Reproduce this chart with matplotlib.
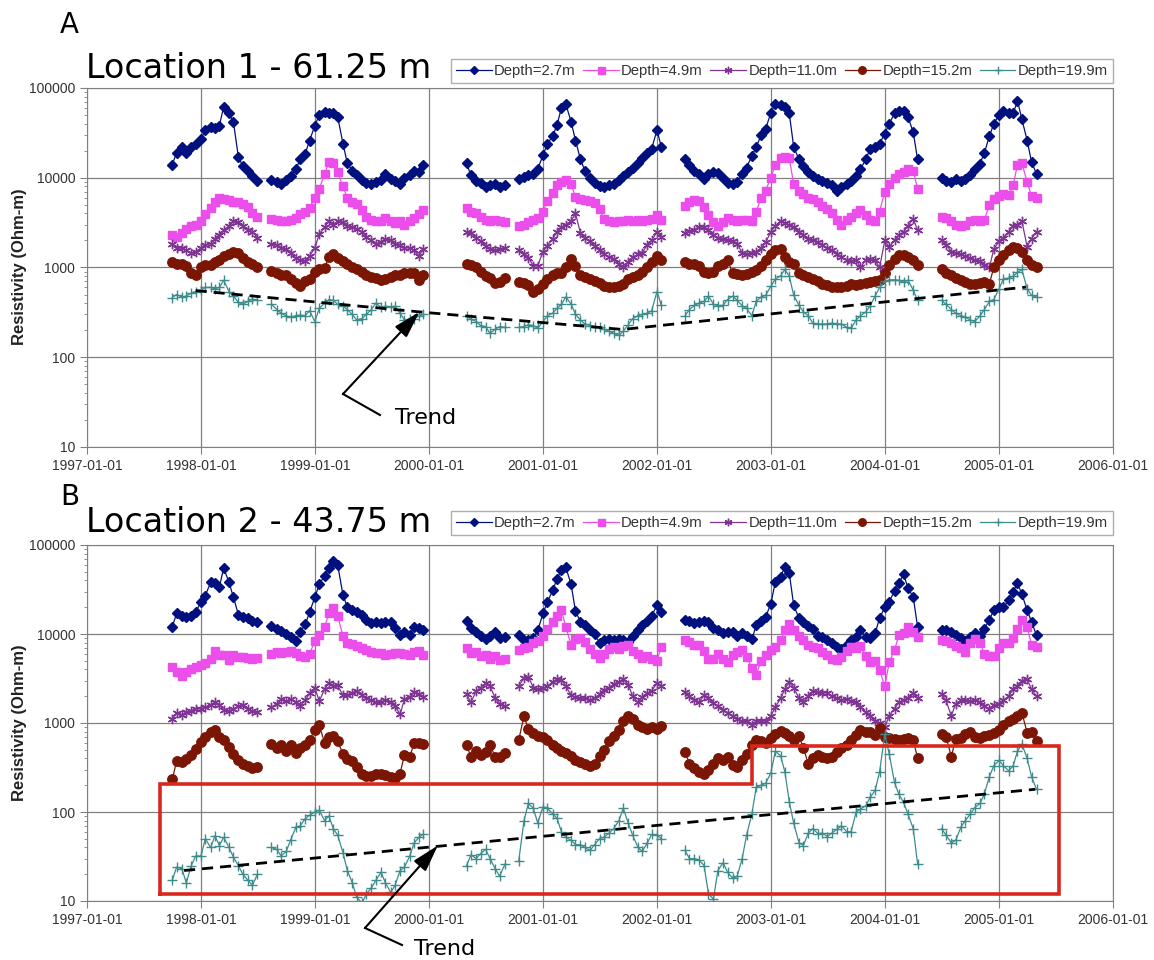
import numpy as np
import pandas as pd
import matplotlib
matplotlib.use('Agg')
import matplotlib.pyplot as plt
import matplotlib.dates as mdates
from matplotlib.ticker import FuncFormatter, NullFormatter
from matplotlib.lines import Line2D

nan = np.nan

# sampling dates, 1st and 15th of each month
dates = pd.date_range('1997-10-01', '2005-05-01', freq='SMS')

# ---- Location 1 (panel A) ----
a_27 = ([14000, 19000, 22000, 19000, 22000, 24000, 27000, 34000, 37000, 36000, 38000, 62000, 52000, 42000,
         17000, 13500, 12000, 10500, 9200] + [nan] * 2 +
        [9500, 9000, 8600, 9500, 10500, 12500, 16000, 18500, 26000, 38000, 50000, 54000, 53000, 52000, 48000,
         24000, 14500, 12000, 10700, 9500, 8800, 8500, 9000, 9500, 11000, 9800, 9300, 8600, 10000, 10600,
         12000, 11500, 14000] + [nan] * 8 +
        [14500, 10600, 9300, 8800, 7800, 8200, 8500, 7900, 8300] + [nan] * 2 +
        [9700, 10200, 10600, 11000, 12500, 17900, 24000, 29000, 39000, 60000, 66000, 42000, 26000, 16000, 12000,
         10000, 8800, 8100, 7800, 8200, 8500, 9400, 10500, 11600, 12800, 14500, 16500, 18800, 21000, 34000,
         22000] + [nan] * 4 +
        [16000, 14000, 12000, 11000, 9800, 11000, 11500, 11300, 10000, 8700, 8600, 9000, 11000, 13000, 17500,
         22000, 30000, 35000, 53000, 67000, 65000, 62000, 52000, 22000, 16000, 13500, 11500, 10500, 9800, 9200,
         8800, 8200, 7200, 7800, 8500, 9200, 10500, 12500, 16000, 21000, 22000, 24000, 31000, 40000, 52000,
         55000, 55000, 48000, 32000, 16000] + [nan] * 4 +
        [10000, 9200, 8900, 9600, 9300, 9600, 10600, 12500, 14400, 19000, 29000, 40000, 50000, 56000, 53000,
         52000, 72000, 45000, 26000, 15000, 11000])

a_49 = ([2300, 2200, 2400, 2700, 2900, 3000, 3300, 3900, 4600, 5300, 5900, 5800, 5600, 5300, 5300, 5100,
         4700, 4100, 3700] + [nan] * 2 +
        [3500, 3400, 3300, 3300, 3400, 3600, 3900, 4200, 4600, 6000, 7500, 11000, 15000, 14500, 11500, 8000,
         6000, 5400, 5100, 4400, 3700, 3400, 3300, 3300, 3600, 3300, 3100, 3300, 3000, 3300, 3600, 3900,
         4400] + [nan] * 8 +
        [4600, 4200, 4000, 3700, 3400, 3300, 3400, 3300, 3200] + [nan] * 2 +
        [2900, 3000, 3200, 3400, 3600, 4200, 5500, 6800, 8300, 9000, 9500, 8500, 6100, 5800, 5700, 5500, 5200,
         4500, 3500, 3300, 3200, 3300, 3300, 3400, 3300, 3400, 3300, 3400, 3500, 3800, 3400] + [nan] * 4 +
        [4900, 5300, 5700, 5500, 4700, 3800, 3200, 2900, 3200, 3600, 3400, 3300, 3400, 3400, 3300, 4200, 6000,
         7200, 10000, 14000, 16500, 17000, 16500, 8500, 7200, 6600, 6000, 5800, 5300, 4900, 4500, 4000, 3400,
         3000, 3400, 3700, 4100, 4400, 3800, 3400, 3300, 4200, 7000, 8500, 10000, 11000, 11500, 12500, 12000,
         7500] + [nan] * 4 +
        [3700, 3600, 3300, 3000, 2900, 3000, 3300, 3400, 3300, 3400, 5000, 5800, 6200, 6600, 6500, 8200, 14000,
         14500, 9000, 6200, 6000])

a_110 = ([1850, 1650, 1650, 1550, 1450, 1500, 1650, 1800, 1850, 2100, 2300, 2600, 2900, 3300, 3200, 2900,
          2650, 2500, 2150] + [nan] * 2 +
         [1850, 1800, 1650, 1600, 1450, 1270, 1220, 1180, 1350, 1650, 2350, 2800, 3300, 3000, 3300, 3200, 2900,
          2850, 2700, 2500, 2200, 2000, 1850, 1900, 2100, 2000, 1850, 1800, 1650, 1650, 1550, 1350,
          1600] + [nan] * 8 +
         [2500, 2400, 2150, 1950, 1750, 1600, 1560, 1600, 1650] + [nan] * 2 +
         [1550, 1400, 1280, 1050, 1050, 1500, 1750, 2100, 2500, 2800, 3000, 3300, 4000, 2400, 2150, 1950, 1750,
          1550, 1400, 1300, 1250, 1100, 1000, 1150, 1300, 1400, 1450, 1800, 2000, 2500, 2200] + [nan] * 4 +
         [2450, 2550, 2650, 2850, 2800, 2600, 2300, 2150, 2100, 2000, 1950, 1850, 1450, 1400, 1450, 1500, 1650,
          1900, 2500, 2900, 3300, 3100, 3000, 2800, 2500, 2300, 2100, 2000, 1900, 1800, 1650, 1550, 1400, 1300,
          1220, 1180, 1220, 1000, 1220, 1250, 1200, 1000, 2000, 1700, 2000, 2300, 2500, 2900, 3500,
          2600] + [nan] * 4 +
         [2000, 1800, 1500, 1450, 1400, 1330, 1280, 1220, 1180, 1080, 1000, 1600, 1950, 2150, 2500, 2900, 3000,
          3300, 1700, 2100, 2500])

a_152 = ([1150, 1100, 1100, 1030, 860, 820, 1000, 1060, 1060, 1150, 1200, 1350, 1420, 1500, 1450, 1280, 1150,
          1100, 1020] + [nan] * 2 +
         [920, 860, 820, 820, 750, 670, 630, 700, 740, 880, 970, 990, 1300, 1400, 1280, 1180, 1100, 1000, 950,
          880, 820, 780, 760, 730, 750, 780, 820, 820, 860, 860, 860, 720, 820] + [nan] * 8 +
         [1100, 1060, 1020, 900, 800, 760, 670, 690, 760] + [nan] * 2 +
         [690, 680, 640, 540, 580, 660, 740, 820, 860, 870, 1000, 1250, 1050, 830, 790, 740, 700, 670, 620, 600,
          610, 630, 660, 750, 780, 820, 880, 1000, 1150, 1350, 1200] + [nan] * 4 +
         [1150, 1100, 1100, 1050, 900, 870, 900, 1050, 1100, 1200, 860, 850, 820, 840, 900, 940, 1050, 1200,
          1400, 1550, 1600, 1300, 1150, 1100, 860, 820, 780, 750, 700, 660, 640, 610, 610, 600, 620, 650, 640,
          660, 680, 690, 700, 720, 860, 1060, 1250, 1380, 1380, 1320, 1200, 1060] + [nan] * 4 +
         [950, 860, 820, 760, 720, 690, 660, 650, 680, 690, 660, 1000, 1220, 1380, 1550, 1700, 1650, 1500, 1200,
          1060, 1020])

a_199 = ([460, 500, 470, 480, 520, 540, 560, 600, 600, 580, 600, 720, 540, 480, 410, 390, 420, 445,
          430] + [nan] * 2 +
         [390, 340, 310, 290, 280, 290, 295, 290, 330, 250, 350, 400, 440, 430, 390, 370, 340, 300, 260, 270,
          300, 340, 400, 360, 370, 365, 370, 310, 260, 265, 270, 290, 300] + [nan] * 8 +
         [290, 265, 250, 225, 220, 185, 205, 220, 215] + [nan] * 2 +
         [215, 220, 230, 225, 210, 250, 290, 310, 350, 390, 470, 390, 300, 260, 235, 225, 220, 215, 205, 195,
          185, 175, 195, 230, 270, 290, 300, 310, 330, 540, 380] + [nan] * 4 +
         [290, 340, 380, 400, 420, 480, 390, 375, 380, 440, 480, 430, 375, 350, 290, 420, 470, 490, 620, 740,
          810, 950, 800, 490, 380, 320, 290, 240, 235, 235, 235, 240, 235, 235, 215, 210, 260, 290, 320, 375,
          480, 600, 700, 730, 730, 720, 690, 720, 560, 430] + [nan] * 4 +
         [430, 390, 340, 310, 290, 280, 260, 250, 290, 340, 420, 440, 580, 750, 760, 800, 880, 950, 580, 490,
          470])

# ---- Location 2 (panel B) ----
b_27 = ([12000, 17000, 16000, 15500, 16000, 17500, 23000, 27000, 38000, 37000, 34000, 55000, 38000, 26000,
         16500, 15500, 15000, 14000, 13500] + [nan] * 2 +
        [12300, 11400, 10800, 10000, 9200, 8300, 10500, 12800, 17500, 26000, 36000, 45000, 55000, 66000, 60000,
         27500, 20000, 18500, 17800, 16300, 14500, 13200, 13700, 13300, 13700, 13700, 11800, 9800, 10500, 9800,
         12100, 11600, 11000] + [nan] * 8 +
        [14000, 11800, 10500, 9400, 8800, 9500, 10500, 9000, 9300] + [nan] * 2 +
        [9700, 8600, 8600, 9000, 11000, 17000, 23000, 31000, 42000, 52000, 56000, 36000, 18000, 13700, 12600,
         11200, 9900, 8000, 8600, 8900, 8600, 8800, 8600, 8200, 9500, 11000, 12600, 14000, 16000, 21000,
         17500] + [nan] * 4 +
        [14400, 14000, 13300, 13500, 14000, 13600, 11800, 11000, 10200, 10500, 10400, 9600, 10300, 9400, 8700,
         12500, 14000, 15500, 22000, 38000, 44000, 57000, 48000, 21000, 15000, 13500, 12400, 11300, 9600, 9200,
         8600, 7900, 7200, 6700, 7600, 8500, 9300, 11000, 9300, 9000, 10200, 15000, 20000, 23000, 30500, 37000,
         47000, 33000, 26000, 12000] + [nan] * 4 +
        [11200, 11000, 10500, 9700, 9000, 8300, 9300, 10200, 9500, 11500, 14500, 18500, 20000, 20000, 24000,
         30000, 37000, 28000, 18500, 13700, 9700])

b_49 = ([4300, 3700, 3400, 3700, 4000, 4300, 4500, 4700, 5200, 6500, 5800, 5800, 5100, 5800, 5500, 5500,
         5400, 5300, 5400] + [nan] * 2 +
        [5900, 6300, 6100, 6300, 6500, 6100, 5600, 5500, 6000, 8300, 9700, 12000, 17000, 19500, 16000, 9500,
         8000, 7800, 7300, 7000, 6600, 6300, 6100, 6100, 5800, 6000, 6100, 6100, 6000, 5800, 6300, 6500,
         5800] + [nan] * 8 +
        [6900, 6100, 6200, 5600, 5800, 5300, 5600, 5100, 5300] + [nan] * 2 +
        [6600, 6900, 7200, 7900, 8300, 9500, 11500, 13500, 16000, 18500, 12000, 7500, 8800, 9000, 8200, 6800,
         5900, 5400, 6000, 6800, 7200, 6700, 7300, 7600, 6500, 5900, 5400, 5600, 5200, 5000, 7200] + [nan] * 4 +
        [8600, 8200, 7500, 7500, 6400, 5300, 5200, 5900, 5300, 4900, 5800, 6300, 6600, 5500, 4200, 3500, 5000,
         5800, 6600, 7200, 8500, 11000, 13000, 11000, 9500, 8600, 7500, 7200, 6900, 6300, 5800, 5300, 5100,
         5500, 6500, 7200, 7000, 7300, 5600, 4900, 5000, 3900, 2600, 4800, 6600, 9700, 10200, 12000, 10600,
         9300] + [nan] * 4 +
        [8600, 8300, 7900, 7300, 6900, 6300, 8000, 8900, 8000, 6000, 5600, 5600, 7000, 7900, 8000, 9000, 11500,
         14500, 12000, 7500, 7200])

b_110 = ([1100, 1300, 1240, 1330, 1380, 1450, 1450, 1500, 1600, 1700, 1600, 1400, 1350, 1450, 1540, 1580,
          1450, 1350, 1330] + [nan] * 2 +
         [1500, 1650, 1850, 1750, 1850, 1700, 1550, 1800, 2150, 2500, 1750, 2400, 2800, 2600, 2650, 2050, 2050,
          2200, 2300, 2050, 1900, 1820, 1700, 1700, 1800, 1700, 1550, 1250, 1850, 1950, 2250, 2100,
          1950] + [nan] * 8 +
         [2100, 1700, 2300, 2500, 2800, 2600, 1900, 1650, 1550] + [nan] * 2 +
         [2600, 3200, 3300, 2500, 2400, 2450, 2600, 2900, 3100, 3050, 2600, 2050, 1950, 1900, 1900, 1820, 1900,
          2100, 2350, 2500, 2750, 2900, 3100, 2700, 2000, 1700, 1950, 2150, 2300, 2800, 2600] + [nan] * 4 +
         [2250, 1990, 1820, 1700, 2050, 1900, 1680, 1560, 1400, 1300, 1200, 1100, 1040, 1040, 960, 1040, 1050,
          1050, 1200, 1500, 1900, 2400, 2900, 2500, 1900, 1700, 2000, 2300, 2250, 2200, 2200, 2000, 1900, 1820,
          1850, 1750, 1700, 1500, 1320, 1200, 1060, 1000, 900, 1200, 1450, 1700, 1800, 1900, 2150,
          1900] + [nan] * 4 +
         [2100, 1800, 1200, 1650, 1800, 1800, 1750, 1800, 1700, 1550, 1450, 1600, 1650, 1800, 2000, 2400, 2600,
          3000, 3100, 2400, 2000])

b_152 = ([232, 370, 360, 390, 440, 510, 610, 690, 800, 840, 700, 640, 540, 450, 380, 350, 330, 315,
          320] + [nan] * 2 +
         [580, 520, 560, 480, 560, 460, 520, 560, 650, 830, 950, 600, 700, 720, 620, 450, 390, 370, 320, 265,
          255, 255, 270, 265, 260, 250, 240, 270, 440, 420, 590, 600, 580] + [nan] * 8 +
         [560, 420, 490, 440, 470, 560, 420, 420, 460] + [nan] * 2 +
         [640, 1200, 850, 780, 720, 700, 640, 560, 520, 490, 460, 430, 380, 360, 345, 330, 350, 430, 500, 620,
          710, 830, 1050, 1200, 1100, 940, 900, 860, 900, 850, 920] + [nan] * 4 +
         [470, 350, 310, 285, 265, 300, 350, 400, 380, 420, 340, 320, 380, 450, 560, 640, 620, 600, 680, 760,
          820, 780, 710, 640, 720, 520, 350, 400, 440, 420, 400, 410, 470, 520, 560, 640, 740, 830, 800, 790,
          740, 880, 700, 670, 660, 650, 660, 670, 650, 400] + [nan] * 4 +
         [750, 700, 420, 660, 680, 760, 800, 690, 680, 710, 740, 770, 840, 950, 1050, 1100, 1200, 1300, 780,
          800, 620])

b_199 = ([17, 24, 23, 16, 25, 32, 32, 50, 40, 54, 42, 52, 40, 31, 25, 20, 17, 15, 20] + [nan] * 2 +
         [40, 38, 32, 36, 48, 67, 70, 84, 92, 100, 105, 80, 90, 65, 55, 35, 22, 16, 11, 9.5, 12, 14, 17, 21,
          16, 12.5, 15, 22, 24, 32, 45, 52, 57] + [nan] * 8 +
         [25, 33, 30, 34, 38, 30, 23, 19, 26] + [nan] * 2 +
         [28, 80, 125, 110, 75, 115, 110, 95, 85, 60, 52, 48, 43, 43, 40, 37, 43, 50, 52, 58, 65, 80, 110, 75,
          55, 40, 36, 45, 56, 55, 50] + [nan] * 4 +
         [37, 30, 30, 29, 25, 12, 10.5, 22, 27, 21, 18, 19, 30, 55, 95, 190, 200, 210, 276, 480, 430, 280, 130,
          75, 45, 42, 58, 65, 57, 58, 53, 58, 64, 70, 60, 60, 100, 108, 118, 146, 175, 280, 750, 450, 215, 158,
          128, 95, 65, 26] + [nan] * 4 +
         [65, 55, 45, 48, 68, 80, 95, 112, 125, 160, 250, 330, 380, 330, 290, 330, 480, 580, 400, 250, 180])

# trend lines
trend_a_dates = ['1997-12-15', '1999-12-24', '2001-09-13', '2005-03-28']
trend_a_vals = [553, 315, 204, 605]
trend_b_dates = ['1997-11-08', '2005-04-27']
trend_b_vals = [22, 180]

# red outline in panel B
box_dates = ['1997-08-22', '1997-08-22', '2002-11-01', '2002-11-01', '2005-07-13', '2005-07-13', '1997-08-22']
box_vals = [11.9, 207, 207, 555, 555, 11.9, 11.9]

labels = ['Depth=2.7m', 'Depth=4.9m', 'Depth=11.0m', 'Depth=15.2m', 'Depth=19.9m']
colors = ['#00117F', '#EC4EEC', '#7F3393', '#7B1604', '#3E8B8B']
markers = ['D', 's', (6, 2, 0), 'o', '+']
msizes = [5.2, 6.3, 6.8, 6.8, 7.0]

plt.rcParams['font.family'] = ['Liberation Sans', 'DejaVu Sans']


def draw_panel(ax, series, tr_dates, tr_vals):
    for vals, lab, col, mk, ms in zip(series, labels, colors, markers, msizes):
        ax.plot(dates, vals, color=col, marker=mk, ms=ms, lw=0.9, mec=col, mfc=col, mew=1.0, label=lab)
    ax.plot(pd.to_datetime(tr_dates), tr_vals, color='k', lw=2, dashes=(4, 2.5), zorder=5)

    ax.set_yscale('log')
    ax.set_ylim(10, 100000)
    ax.set_xlim(pd.Timestamp('1997-01-01'), pd.Timestamp('2006-01-01'))
    ax.xaxis.set_major_locator(mdates.YearLocator())
    ax.xaxis.set_major_formatter(mdates.DateFormatter('%Y-%m-%d'))
    ax.yaxis.set_major_formatter(FuncFormatter(lambda v, p: '%d' % v))
    ax.yaxis.set_minor_formatter(NullFormatter())
    ax.grid(True, which='major', color='#808080', lw=0.9)
    ax.set_axisbelow(True)
    for s in ax.spines.values():
        s.set_color('#808080')
    ax.tick_params(which='major', labelsize=10, colors='#808080', labelcolor='#333333', length=5)
    ax.tick_params(which='minor', colors='#808080', length=2.5)
    ax.tick_params(axis='x', which='minor', length=0)

    leg = ax.legend(loc='lower right', ncol=5, frameon=True, fancybox=False,
                    edgecolor='#9a9a9a', fontsize=10.7, handlelength=2.4, handletextpad=0.15,
                    columnspacing=0.5, borderpad=0.35, borderaxespad=0, numpoints=1,
                    markerscale=0.8)
    leg.get_frame().set_linewidth(1.0)
    for t in leg.get_texts():
        t.set_color('#333333')
    return leg


fig = plt.figure(figsize=(11.54, 9.6), dpi=100)
ax_a = fig.add_axes([87 / 1154, 1 - 447 / 960, 1026 / 1154, 359 / 960])
ax_b = fig.add_axes([87 / 1154, 1 - 901 / 960, 1026 / 1154, 356 / 960])

leg_a = draw_panel(ax_a, [a_27, a_49, a_110, a_152, a_199], trend_a_dates, trend_a_vals)
leg_a.set_bbox_to_anchor((1.0, 1.014), transform=ax_a.transAxes)
leg_b = draw_panel(ax_b, [b_27, b_49, b_110, b_152, b_199], trend_b_dates, trend_b_vals)
leg_b.set_bbox_to_anchor((1.0, 1.028), transform=ax_b.transAxes)

ax_b.plot(pd.to_datetime(box_dates), box_vals, color='#D8281E', lw=2.6, zorder=6,
          solid_joinstyle='miter')

# panel letters, titles, y labels
for lett, ty, tt, ly, lab_y in [('A', 25, 'Location 1 - 61.25 m', 68, 267),
                                ('B', 497, 'Location 2 - 43.75 m', 522, 723)]:
    fig.text(60 / 1154, 1 - ty / 960, lett, fontsize=20, family='DejaVu Sans', va='center', ha='left')
    fig.text(86 / 1154, 1 - ly / 960, tt, fontsize=24, family='DejaVu Sans', va='center', ha='left')
    fig.text(20 / 1154, 1 - lab_y / 960, 'Resistivity (Ohm-m)', fontsize=12, fontweight='bold',
             rotation=90, va='center', ha='center', color='#222222')

# "Trend" callouts
arrow_style = dict(arrowstyle='-|>,head_length=0.75,head_width=0.22', color='k', lw=1.5,
                   mutation_scale=22, shrinkA=0, shrinkB=0)
for ax, tip, kink, tail, txt in [(ax_a, ('1999-12-02', 320), (343, 566), (380, 545), (395, 542)),
                                 (ax_b, ('2000-01-30', 42), (365, 32), (402, 15), (414, 11))]:
    ax.annotate('', xy=(mdates.date2num(pd.Timestamp(tip[0])), tip[1]), xycoords='data',
                xytext=kink, textcoords='figure pixels', arrowprops=arrow_style,
                annotation_clip=False, zorder=7)
    fig.add_artist(Line2D([kink[0] / 1154, tail[0] / 1154], [kink[1] / 960, tail[1] / 960],
                          color='k', lw=1.5, transform=fig.transFigure))
    fig.text(txt[0] / 1154, txt[1] / 960, 'Trend', fontsize=16, family='DejaVu Sans',
             va='center', ha='left')

fig.savefig('out.png', dpi=100)
